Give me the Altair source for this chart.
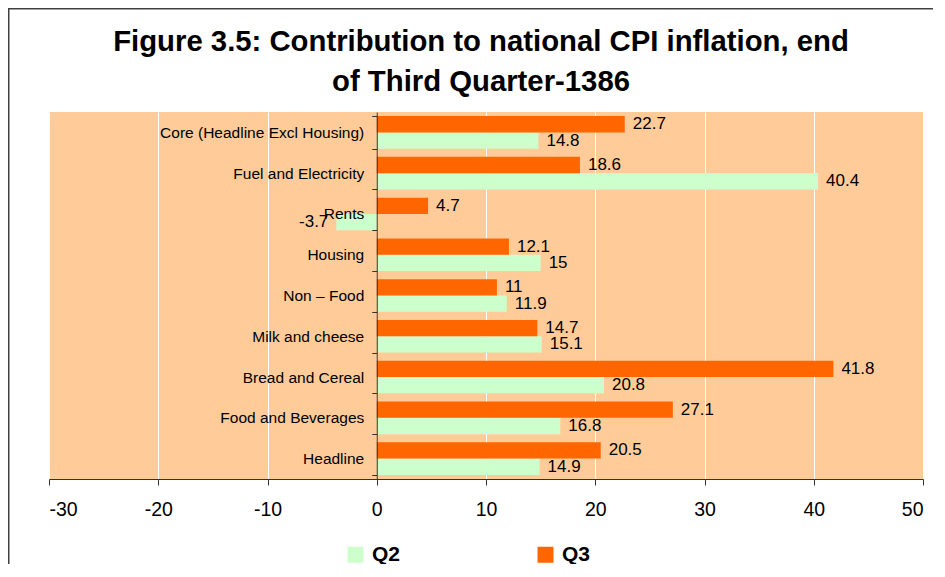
import altair as alt
import pandas as pd

# ---- data ----
categories = [
    "Core (Headline Excl Housing)",
    "Fuel and Electricity",
    "Rents",
    "Housing",
    "Non – Food",
    "Milk and cheese",
    "Bread and Cereal",
    "Food and Beverages",
    "Headline",
]
q2_values = [14.8, 40.4, -3.7, 15, 11.9, 15.1, 20.8, 16.8, 14.9]
q3_values = [22.7, 18.6, 4.7, 12.1, 11, 14.7, 41.8, 27.1, 20.5]
series_names = ["Q2", "Q3"]
series_colors = ["#CCFFCC", "#FF6600"]
x_ticks = [-30, -20, -10, 0, 10, 20, 30, 40, 50]
title_lines = ["Figure 3.5: Contribution to national CPI inflation, end",
               "of Third Quarter-1386"]

rows = []
for c, a, b in zip(categories, q2_values, q3_values):
    rows.append({"category": c, "series": "Q2", "value": a})
    rows.append({"category": c, "series": "Q3", "value": b})
df = pd.DataFrame(rows)

FONT = "Liberation Sans"
DARK = "#333333"

base = alt.Chart(df).transform_calculate(
    label="datum.value + ''"
).encode(
    y=alt.Y(
        "category:N",
        sort=categories,
        scale=alt.Scale(paddingInner=0.2, paddingOuter=0.1),
        axis=alt.Axis(
            title=None, offset=-327.75, tickBand="extent", tickSize=5,
            labelPadding=8, labelFontSize=15.5, labelFont=FONT,
            labelColor="#000000", labelLimit=400, domainColor=DARK,
            tickColor=DARK, zindex=1, grid=False,
        ),
    ),
    yOffset=alt.YOffset("series:N", sort=["Q3", "Q2"]),
    x=alt.X(
        "value:Q",
        scale=alt.Scale(domain=[-30, 50], nice=False),
        axis=alt.Axis(
            values=x_ticks, title=None, grid=True, gridColor="#FFFFFF",
            gridWidth=1, tickSize=6, labelPadding=15, labelFontSize=19.5,
            labelFont=FONT, labelColor="#000000", domainColor=DARK,
            tickColor=DARK, labelExpr="datum.value + ''", zindex=0,
        ),
    ),
)

bars = base.mark_bar().encode(
    color=alt.Color(
        "series:N",
        scale=alt.Scale(domain=series_names, range=series_colors),
        legend=alt.Legend(
            orient="none", legendX=296, legendY=432, direction="horizontal",
            title=None, symbolType="square", symbolSize=256,
            symbolStrokeWidth=0, labelFont=FONT, labelFontSize=21,
            labelFontWeight="bold", labelColor="#000000", labelOffset=6,
            columnPadding=134, padding=0,
        ),
    )
)

text_pos = base.mark_text(
    align="left", baseline="middle", dx=8, fontSize=17, font=FONT, color="#000000"
).encode(text="label:N").transform_filter("datum.value >= 0")

text_neg = base.mark_text(
    align="right", baseline="middle", dx=-8, fontSize=17, font=FONT, color="#000000"
).encode(text="label:N").transform_filter("datum.value < 0")

frame_df = pd.DataFrame({"k": [0]})
left_line = alt.Chart(frame_df).mark_rule(color="#404040", strokeWidth=1.5).encode(
    x=alt.value(-40.25), y=alt.value(-103.25), y2=alt.value(452)
)
top_line = alt.Chart(frame_df).mark_rule(color="#404040", strokeWidth=1.5).encode(
    x=alt.value(-41), x2=alt.value(884), y=alt.value(-103.25)
)

chart = alt.layer(bars, text_pos, text_neg, left_line, top_line).properties(
    width=874,
    height=367,
    title=alt.Title(
        text=title_lines, font=FONT, fontSize=29.3, fontWeight="bold",
        color="#000000", anchor="middle", dx=-5, offset=-89, lineHeight=39.5,
    ),
    autosize=alt.AutoSizeParams(type="none"),
    padding={"left": 41, "top": 104, "right": 10, "bottom": 85},
    background="#FFFFFF",
).configure_view(fill="#FFCC99", strokeWidth=0)

chart.save("out.html", embed_options={"renderer": "svg", "actions": False})
